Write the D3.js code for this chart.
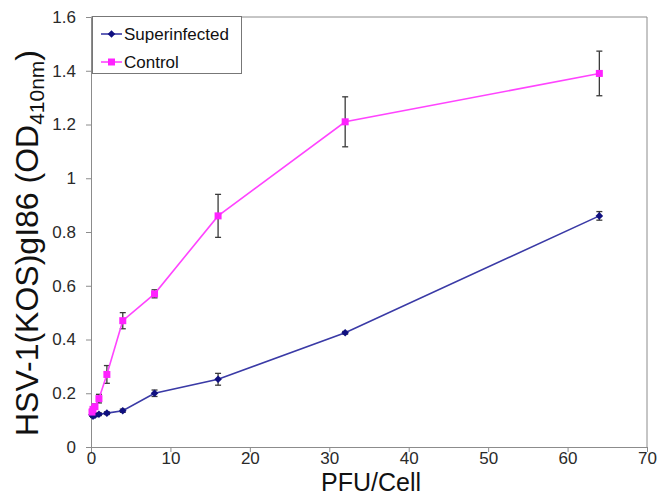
<!DOCTYPE html>
<html>
<head>
<meta charset="utf-8">
<script src="https://cdn.jsdelivr.net/npm/d3@7"></script>
<style>
  html, body { margin: 0; padding: 0; background: #fff; }
  svg { display: block; font-family: "Liberation Sans", Arial, sans-serif; }
</style>
</head>
<body>
<svg id="chart" width="659" height="496"></svg>
<script>
// PFU per cell (x positions of the measurements)
const pfu = [0.125, 0.25, 0.5, 1, 2, 4, 8, 16, 32, 64];

// Mean OD410nm readings and their error bar half-widths
const superinfected = [0.12, 0.115, 0.118, 0.122, 0.126, 0.135, 0.2, 0.252, 0.425, 0.86];
const superinfectedErr = [0.005, 0.005, 0.005, 0.005, 0.005, 0.006, 0.012, 0.022, 0.005, 0.016];
const control = [0.13, 0.14, 0.15, 0.18, 0.27, 0.47, 0.57, 0.86, 1.21, 1.39];
const controlErr = [0.01, 0.01, 0.01, 0.016, 0.033, 0.03, 0.015, 0.08, 0.093, 0.083];

// Axis ticks
const xTicks = [0, 10, 20, 30, 40, 50, 60, 70];
const yTicks = [0, 0.2, 0.4, 0.6, 0.8, 1, 1.2, 1.4, 1.6];

const seriesNames = ["Superinfected", "Control"];

const svg = d3.select("#chart");
const x = d3.scaleLinear().domain([0, 70]).range([91, 647]);
const y = d3.scaleLinear().domain([0, 1.6]).range([447, 17]);

const axisColor = "#8c8c8c";
const labelColor = "#2a2a2a";

// Plot frame (top and right edges)
svg.append("path")
  .attr("d", `M${x(0)},${y(1.6)}H${x(70)}V${y(0)}`)
  .attr("fill", "none").attr("stroke", axisColor).attr("stroke-width", 1);

// Axes
const xAxis = svg.append("g").attr("transform", `translate(0,${y(0)})`)
  .call(d3.axisBottom(x).tickValues(xTicks).tickFormat(d3.format("d")).tickSize(5).tickPadding(0));
const yAxis = svg.append("g").attr("transform", `translate(${x(0)},0)`)
  .call(d3.axisLeft(y).tickValues(yTicks).tickFormat(d => String(d)).tickSize(5).tickPadding(10));

[xAxis, yAxis].forEach(g => {
  g.select(".domain").attr("stroke", axisColor);
  g.selectAll(".tick line").attr("stroke", axisColor);
  g.selectAll(".tick text").attr("fill", labelColor).style("font-size", "17px")
    .style("font-family", "'Liberation Sans', Arial, sans-serif");
});

// Axis titles
svg.append("text")
  .attr("x", 371).attr("y", 490.6)
  .attr("text-anchor", "middle").attr("fill", "#111")
  .style("font-size", "25px").text("PFU/Cell");

const yTitle = svg.append("text")
  .attr("transform", `translate(38,${(y(0) + y(1.6)) / 2 + 11}) rotate(-90)`)
  .attr("text-anchor", "middle").attr("fill", "#111")
  .style("font-size", "32px");
yTitle.append("tspan").text("HSV-1(KOS)gI86 (OD");
yTitle.append("tspan").attr("baseline-shift", "-30%").style("font-size", "21px").text("410nm");
yTitle.append("tspan").text(")");

const series = [
  { name: seriesNames[0], values: superinfected, err: superinfectedErr, line: "#3a3aa6", fill: "#101080", shape: "diamond" },
  { name: seriesNames[1], values: control, err: controlErr, line: "#ff44ff", fill: "#ff22ff", shape: "square" }
];

function markerPath(shape) {
  if (shape === "diamond") return "M0,-3.8L3.8,0L0,3.8L-3.8,0Z";
  return "M-3.5,-3.5H3.5V3.5H-3.5Z";
}

// Error bars
series.forEach(s => {
  const g = svg.append("g").attr("stroke", "#3a3a3a").attr("stroke-width", 1.3);
  pfu.forEach((p, i) => {
    const cx = x(p), top = y(s.values[i] + s.err[i]), bot = y(s.values[i] - s.err[i]);
    g.append("line").attr("x1", cx).attr("x2", cx).attr("y1", top).attr("y2", bot);
    g.append("line").attr("x1", cx - 3).attr("x2", cx + 3).attr("y1", top).attr("y2", top);
    g.append("line").attr("x1", cx - 3).attr("x2", cx + 3).attr("y1", bot).attr("y2", bot);
  });
});

// Lines and markers
const line = d3.line().x((d, i) => x(pfu[i])).y(d => y(d));
series.forEach(s => {
  svg.append("path").datum(s.values)
    .attr("d", line).attr("fill", "none")
    .attr("stroke", s.line).attr("stroke-width", 1.6);
  svg.append("g").selectAll("path").data(s.values).join("path")
    .attr("transform", (d, i) => `translate(${x(pfu[i])},${y(d)})`)
    .attr("d", markerPath(s.shape)).attr("fill", s.fill);
});

// Legend
const legend = svg.append("g");
legend.append("rect").attr("x", 92.5).attr("y", 16.5).attr("width", 149).attr("height", 57)
  .attr("fill", "#fff").attr("stroke", "#777").attr("stroke-width", 1);
series.forEach((s, i) => {
  const ly = 34 + i * 28;
  legend.append("line").attr("x1", 101).attr("x2", 122).attr("y1", ly).attr("y2", ly)
    .attr("stroke", s.line).attr("stroke-width", 1.6);
  legend.append("path").attr("transform", `translate(111.5,${ly})`)
    .attr("d", markerPath(s.shape)).attr("fill", s.fill);
  legend.append("text").attr("x", 124).attr("y", ly + 6)
    .attr("fill", "#111").style("font-size", "17px").text(s.name);
});
</script>
</body>
</html>
